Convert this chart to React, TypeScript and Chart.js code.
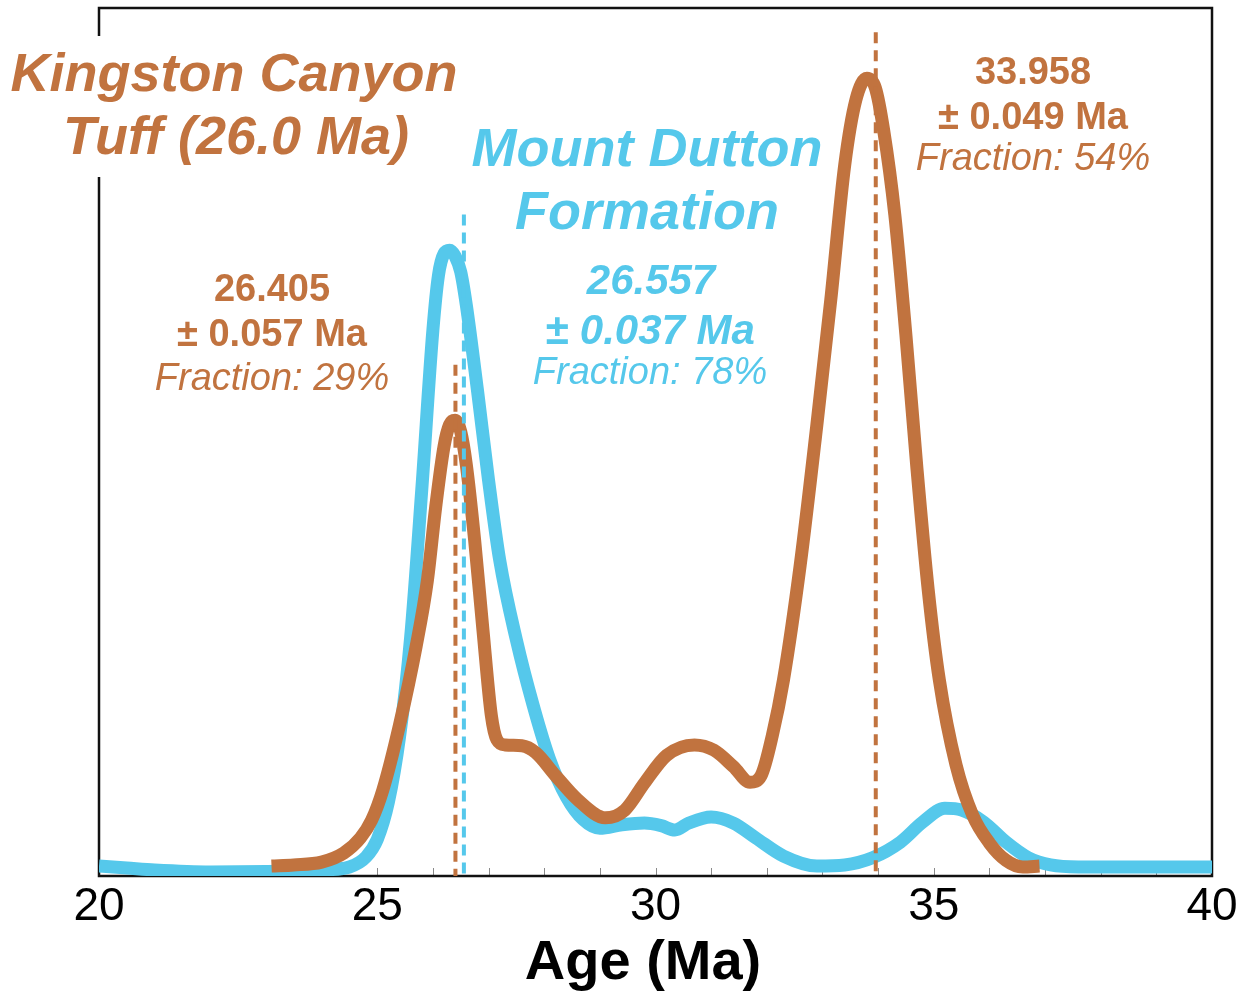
import React, { useEffect, useRef } from "react";
import { Chart, registerables } from "chart.js";

Chart.register(...registerables);

// ---- Data (relative probability density, arbitrary units 0-100) ----
const blueAges = [
  20.0, 20.5, 21.0, 22.0, 23.0, 24.0, 24.5, 24.8, 25.0, 25.2, 25.4, 25.6, 25.8,
  26.0, 26.1, 26.2, 26.3, 26.4, 26.5, 26.6, 26.8, 27.0, 27.2, 27.5, 27.8, 28.1,
  28.4, 28.7, 29.0, 29.4, 29.8, 30.1, 30.35, 30.6, 31.0, 31.4, 31.8, 32.3, 32.9,
  33.4, 33.9, 34.4, 34.8, 35.2, 35.5, 35.9, 36.3, 36.7, 37.1, 37.6, 38.5, 40.0,
];
const blueDensity = [
  1.15, 0.92, 0.69, 0.46, 0.52, 0.69, 1.04, 2.2, 4.2, 8.5, 16.0, 27.5, 44.5,
  62.9, 69.2, 71.7, 72.1, 71.4, 69.6, 65.8, 56.0, 45.6, 36.4, 27.2, 19.7, 13.4,
  9.1, 6.5, 5.5, 5.9, 6.1, 5.8, 5.3, 6.1, 6.8, 6.1, 4.4, 2.3, 1.15,
  1.27, 2.1, 3.9, 6.2, 7.8, 7.6, 6.2, 3.9, 2.1, 1.27, 1.04, 1.04, 1.04,
];

const brownAges = [
  23.1, 23.5, 24.0, 24.4, 24.7, 24.9, 25.1, 25.4, 25.7, 25.9, 26.05, 26.2, 26.3,
  26.4, 26.5, 26.6, 26.75, 26.9, 27.05, 27.15, 27.3, 27.6, 27.85, 28.2, 28.6,
  29.1, 29.45, 29.8, 30.2, 30.7, 31.05, 31.4, 31.7, 31.9, 32.1, 32.3, 32.6, 32.9,
  33.15, 33.4, 33.6, 33.8, 33.95, 34.1, 34.3, 34.5, 34.7, 34.9, 35.1, 35.4, 35.7,
  36.0, 36.3, 36.6, 36.9,
];
const brownDensity = [
  1.15, 1.27, 1.6, 2.65, 4.4, 6.45, 9.9, 17.4, 26.5, 34.0, 42.5, 49.5, 52.0,
  52.5, 51.2, 47.4, 38.7, 28.3, 18.5, 15.7, 15.1, 15.0, 14.2, 11.6, 8.8,
  6.7, 7.6, 10.7, 13.9, 15.1, 14.5, 12.6, 10.8, 11.6, 16.2, 22.6, 35.8, 52.0,
  66.4, 81.9, 89.4, 91.9, 90.8, 85.9, 76.2, 62.3, 46.8, 33.0, 22.6, 12.8, 7.0,
  3.8, 1.8, 1.04, 1.15,
];

// Weighted-mean ages (dashed markers) and how high each marker reaches
const brownMarkerAges = [26.405, 33.958];
const brownMarkerTops = [58.9, 97.2];
const blueMarkerAges = [26.557];
const blueMarkerTops = [76.2];

const xTickValues = [20, 25, 30, 35, 40];
const minorTickValues = [21, 22, 23, 24, 25, 26, 27, 28, 29, 30, 31, 32, 33, 34, 35, 36, 37, 38, 39];
const xAxisTitle = "Age (Ma)";

const BROWN = "#C1733F";
const BLUE = "#55C8EB";
const FONT = "'Liberation Sans', Arial, Helvetica, sans-serif";

const annotationPlugin = {
  id: "annotations",
  beforeDatasetsDraw(chart: any) {
    const { ctx, chartArea } = chart;
    const xs = chart.scales.x;
    const { left, right, top, bottom } = chartArea;
    ctx.save();
    // minor ticks (inside)
    ctx.strokeStyle = "#8a8a8a";
    ctx.lineWidth = 1;
    for (const v of minorTickValues) {
      const px = Math.round(xs.getPixelForValue(v)) + 0.5;
      ctx.beginPath();
      ctx.moveTo(px, bottom);
      ctx.lineTo(px, bottom - 8);
      ctx.stroke();
    }
    // frame
    ctx.strokeStyle = "#111";
    ctx.lineWidth = 2.5;
    ctx.strokeRect(left, top, right - left, bottom - top);
    ctx.restore();
  },
  afterDatasetsDraw(chart: any) {
    const { ctx, chartArea } = chart;
    const xs = chart.scales.x;
    const ys = chart.scales.y;
    const bottom = chartArea.bottom;
    ctx.save();
    const drawMarkers = (ages: number[], tops: number[], color: string) => {
      ctx.strokeStyle = color;
      ctx.lineWidth = 4;
      ctx.setLineDash([11, 7]);
      ages.forEach((a, i) => {
        const px = xs.getPixelForValue(a);
        ctx.beginPath();
        ctx.moveTo(px, ys.getPixelForValue(tops[i]));
        ctx.lineTo(px, bottom);
        ctx.stroke();
      });
      ctx.setLineDash([]);
    };
    drawMarkers(brownMarkerAges, brownMarkerTops, BROWN);
    drawMarkers(blueMarkerAges, blueMarkerTops, BLUE);

    // white box behind the Kingston Canyon label (hides part of the left border)
    ctx.fillStyle = "#fff";
    ctx.fillRect(chartArea.left - 4, 36, 8, 141);

    ctx.textAlign = "center";
    ctx.textBaseline = "alphabetic";
    const text = (s: string, x: number, y: number, font: string, color: string) => {
      ctx.font = font;
      ctx.fillStyle = color;
      ctx.fillText(s, x, y);
    };
    const bi54 = `italic bold 54px ${FONT}`;
    text("Kingston Canyon", 234, 91, bi54, BROWN);
    text("Tuff (26.0 Ma)", 236, 154, bi54, BROWN);
    text("Mount Dutton", 647, 166, bi54, BLUE);
    text("Formation", 647, 229, bi54, BLUE);

    const b38 = `bold 38px ${FONT}`;
    const i38 = `italic 38px ${FONT}`;
    const bi42 = `italic bold 42px ${FONT}`;
    text("26.405", 272, 301, b38, BROWN);
    text("± 0.057 Ma", 272, 346, b38, BROWN);
    text("Fraction: 29%", 272, 390, i38, BROWN);

    text("26.557", 651, 294, bi42, BLUE);
    text("± 0.037 Ma", 650, 344, bi42, BLUE);
    text("Fraction: 78%", 650, 384, i38, BLUE);

    text("33.958", 1033, 84, b38, BROWN);
    text("± 0.049 Ma", 1033, 129, b38, BROWN);
    text("Fraction: 54%", 1033, 170, i38, BROWN);

    // x-axis title
    text(xAxisTitle, 643, 979, `bold 56px ${FONT}`, "#000");
    ctx.restore();
  },
};

export default function App() {
  const canvasRef = useRef<HTMLCanvasElement | null>(null);

  useEffect(() => {
    const canvas = canvasRef.current;
    if (!canvas) return;
    const chart = new Chart(canvas, {
      type: "line",
      data: {
        datasets: [
          {
            label: "Kingston Canyon Tuff",
            data: brownAges.map((a, i) => ({ x: a, y: brownDensity[i] })),
            borderColor: BROWN,
            borderWidth: 13,
            pointRadius: 0,
            cubicInterpolationMode: "monotone",
            borderCapStyle: "butt",
            borderJoinStyle: "round",
            fill: false,
          },
          {
            label: "Mount Dutton Formation",
            data: blueAges.map((a, i) => ({ x: a, y: blueDensity[i] })),
            borderColor: BLUE,
            borderWidth: 13,
            pointRadius: 0,
            cubicInterpolationMode: "monotone",
            borderCapStyle: "butt",
            borderJoinStyle: "round",
            fill: false,
          },
        ],
      },
      options: {
        responsive: false,
        animation: false,
        events: [],
        layout: { padding: { left: 99, right: 41, top: 8, bottom: 0 } },
        plugins: {
          legend: { display: false },
          tooltip: { enabled: false },
        },
        scales: {
          x: {
            type: "linear",
            min: 20,
            max: 40,
            afterBuildTicks: (s: any) => {
              s.ticks = xTickValues.map((v) => ({ value: v }));
            },
            afterFit: (s: any) => {
              s.height = 115;
            },
            ticks: {
              font: { family: FONT, size: 46 },
              color: "#000",
              padding: -4,
              maxRotation: 0,
              autoSkip: false,
            },
            grid: { display: false },
            border: { display: false },
            title: { display: false },
          },
          y: {
            display: false,
            min: 0,
            max: 100,
          },
        },
      },
      plugins: [annotationPlugin],
    } as any);
    return () => chart.destroy();
  }, []);

  return (
    <div style={{ position: "absolute", left: 0, top: 0, width: 1253, height: 991, background: "#fff" }}>
      <canvas ref={canvasRef} width={1253} height={991} style={{ display: "block" }} />
    </div>
  );
}
